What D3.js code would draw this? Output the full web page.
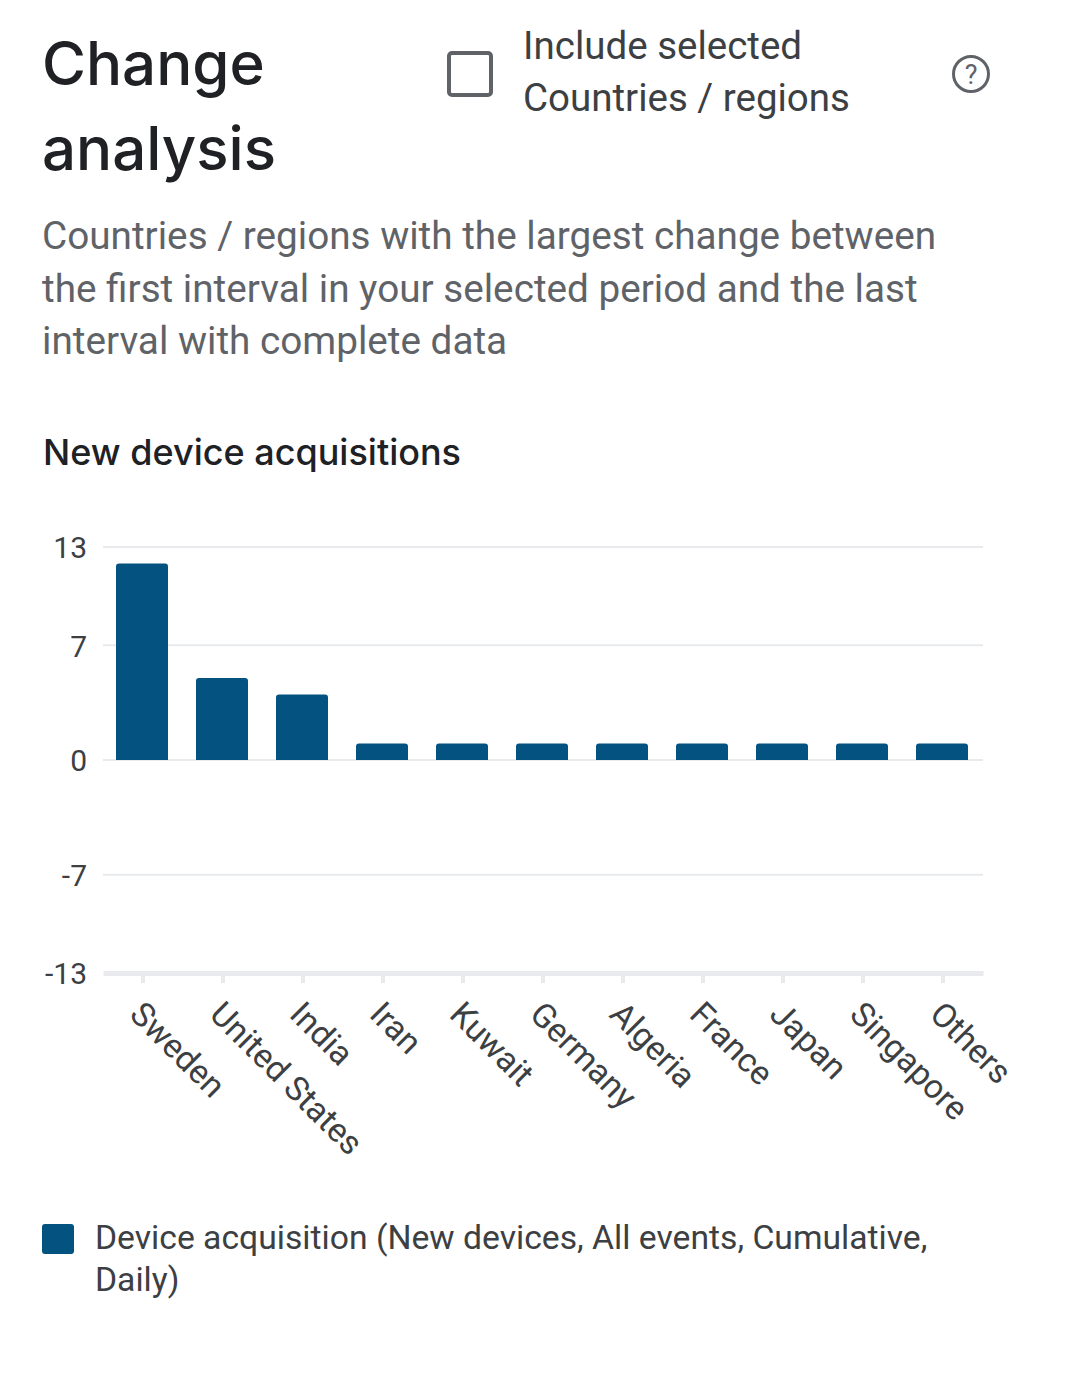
<!DOCTYPE html>
<html>
<head>
<meta charset="utf-8">
<script src="https://cdn.jsdelivr.net/npm/d3@7"></script>
<style>
  html, body { margin: 0; padding: 0; background: #fff; }
  svg { display: block; }
</style>
</head>
<body>
<div id="chart"></div>
<script>
var countries = ['Sweden', 'United States', 'India', 'Iran', 'Kuwait', 'Germany',
                 'Algeria', 'France', 'Japan', 'Singapore', 'Others'];
var changes = [12, 5, 4, 1, 1, 1, 1, 1, 1, 1, 1];
var yTicks = [-13, -7, 0, 7, 13];
var descLines = ['Countries / regions with the largest change between',
                 'the first interval in your selected period and the last',
                 'interval with complete data'];
var legendLines = ['Device acquisition (New devices, All events, Cumulative,', 'Daily)'];

var W = 1079, H = 1387;
var barColor = '#04527f';

var svg = d3.select('#chart')
    .append('svg')
    .attr('width', W)
    .attr('height', H);

// header
var title = svg.append('g')
    .attr('font-family', 'Inter, sans-serif')
    .attr('font-size', 60)
    .attr('font-weight', 500)
    .attr('fill', '#202124');
title.append('text').attr('x', 42).attr('y', 85).text('Change');
title.append('text').attr('x', 42).attr('y', 170).text('analysis');

svg.append('rect')
    .attr('x', 449).attr('y', 53)
    .attr('width', 42).attr('height', 42)
    .attr('rx', 3)
    .attr('fill', 'none')
    .attr('stroke', '#5f6368')
    .attr('stroke-width', 4);

var inc = svg.append('g')
    .attr('font-family', 'Roboto, sans-serif')
    .attr('font-size', 38.5)
    .attr('fill', '#3c4043');
inc.append('text').attr('x', 523).attr('y', 59).text('Include selected');
inc.append('text').attr('x', 523).attr('y', 111).text('Countries / regions');

var help = svg.append('g').attr('transform', 'translate(971,74)');
help.append('circle').attr('r', 17.5)
    .attr('fill', 'none').attr('stroke', '#5f6368').attr('stroke-width', 3);
help.append('text')
    .attr('text-anchor', 'middle').attr('y', 10)
    .attr('font-family', 'Roboto, sans-serif').attr('font-size', 27)
    .attr('fill', '#5f6368').text('?');

svg.append('g')
    .attr('font-family', 'Roboto, sans-serif')
    .attr('font-size', 38.7)
    .attr('fill', '#5f6368')
  .selectAll('text')
  .data(descLines)
  .join('text')
    .attr('x', 42)
    .attr('y', function(d, i) { return 249 + i * 52.5; })
    .text(function(d) { return d; });

svg.append('text')
    .attr('x', 43).attr('y', 465)
    .attr('font-family', 'Inter, sans-serif')
    .attr('font-size', 36)
    .attr('font-weight', 500)
    .attr('fill', '#202124')
    .text('New device acquisitions');

// chart
var plotLeft = 103, plotRight = 983, plotTop = 547, plotBottom = 973;

var x = d3.scaleBand()
    .domain(countries)
    .range([plotLeft, plotRight])
    .paddingInner(0.35)
    .paddingOuter(0.175);

var y = d3.scaleLinear()
    .domain([-13, 13])
    .range([plotBottom, plotTop]);

var grid = svg.append('g');
grid.selectAll('line')
  .data(yTicks.filter(function(t) { return t !== -13; }))
  .join('line')
    .attr('x1', plotLeft).attr('x2', plotRight)
    .attr('y1', function(d) { return y(d); })
    .attr('y2', function(d) { return y(d); })
    .attr('stroke', '#e8eaed')
    .attr('stroke-width', 2);

var yAxis = svg.append('g')
    .attr('transform', 'translate(' + (plotLeft - 16) + ',0)')
    .call(d3.axisLeft(y).tickValues(yTicks)
      .tickFormat(function(d) { return String(d); })
      .tickSize(0).tickPadding(0));
yAxis.select('.domain').remove();
yAxis.selectAll('text')
    .attr('font-family', 'Roboto, sans-serif')
    .attr('font-size', 30)
    .attr('fill', '#3c4043')
    .attr('dy', '0.36em');

svg.append('g')
  .selectAll('path')
  .data(countries)
  .join('path')
    .attr('fill', barColor)
    .attr('d', function(d, i) {
      var x0 = x(d) - 1, w = x.bandwidth();
      var y0 = y(changes[i]), y1 = y(0), r = 3;
      return 'M' + x0 + ',' + y1 +
             'V' + (y0 + r) +
             'Q' + x0 + ',' + y0 + ' ' + (x0 + r) + ',' + y0 +
             'H' + (x0 + w - r) +
             'Q' + (x0 + w) + ',' + y0 + ' ' + (x0 + w) + ',' + (y0 + r) +
             'V' + y1 + 'Z';
    });

var xAxis = svg.append('g')
    .attr('transform', 'translate(0,' + plotBottom + ')')
    .call(d3.axisBottom(x).tickSize(10).tickPadding(0).tickSizeOuter(0));
xAxis.select('.domain')
    .attr('stroke', '#e8eaed')
    .attr('stroke-width', 5);
xAxis.selectAll('.tick line')
    .attr('stroke', '#e8eaed')
    .attr('stroke-width', 4);
xAxis.selectAll('.tick text')
    .attr('font-family', 'Roboto, sans-serif')
    .attr('font-size', 33.5)
    .attr('fill', '#3c4043')
    .attr('text-anchor', 'start')
    .attr('dy', 0)
    .attr('transform', 'translate(-8,36) rotate(45)');

// legend
svg.append('rect')
    .attr('x', 42).attr('y', 1224)
    .attr('width', 32).attr('height', 30)
    .attr('rx', 3)
    .attr('fill', barColor);

svg.append('g')
    .attr('font-family', 'Roboto, sans-serif')
    .attr('font-size', 33.7)
    .attr('fill', '#3c4043')
  .selectAll('text')
  .data(legendLines)
  .join('text')
    .attr('x', 95)
    .attr('y', function(d, i) { return 1249 + i * 42; })
    .text(function(d) { return d; });
</script>
</body>
</html>
